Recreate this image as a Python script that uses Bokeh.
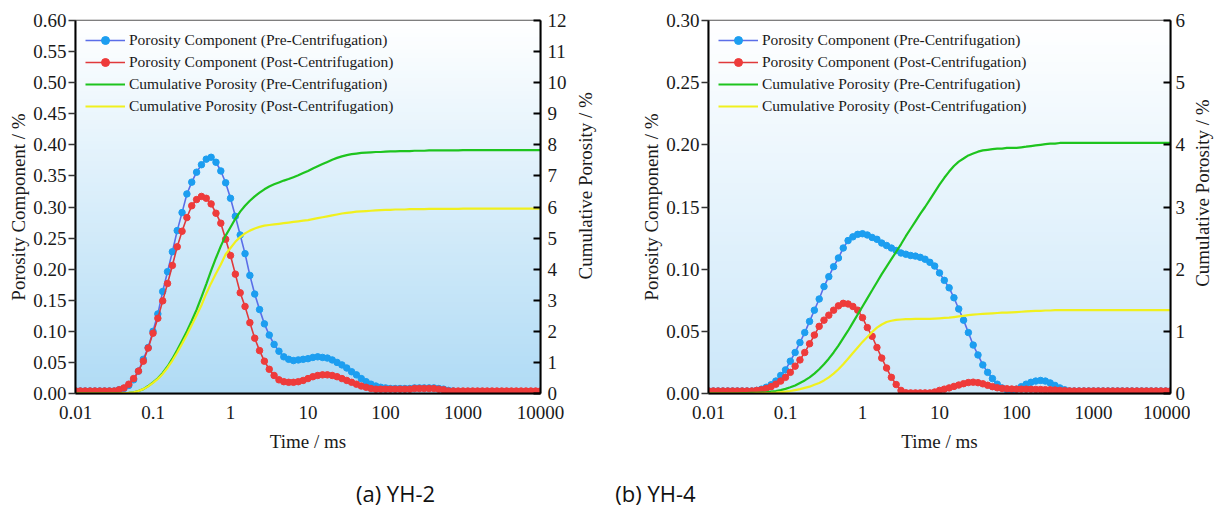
import math
from bokeh.plotting import figure
from bokeh.models import (Range1d, LinearAxis, FixedTicker, PrintfTickFormatter,
                          CustomJSTickFormatter, Legend, LegendItem)
from bokeh.layouts import row, column
from bokeh.core.properties import value
from bokeh.embed import file_html
from bokeh.resources import INLINE

# ---------------- data ----------------
time_ms = [
    0.01, 0.01155, 0.01334, 0.0154, 0.01778, 0.02054, 0.02371, 0.02738, 0.03162, 0.03652, 0.04217, 0.0487, 0.05623, 0.06494, 0.07499, 0.0866,
    0.1, 0.1155, 0.1334, 0.154, 0.1778, 0.2054, 0.2371, 0.2738, 0.3162, 0.3652, 0.4217, 0.487, 0.5623, 0.6494, 0.7499, 0.866,
    1, 1.155, 1.334, 1.54, 1.778, 2.054, 2.371, 2.738, 3.162, 3.652, 4.217, 4.87, 5.623, 6.494, 7.499, 8.66,
    10, 11.55, 13.34, 15.4, 17.78, 20.54, 23.71, 27.38, 31.62, 36.52, 42.17, 48.7, 56.23, 64.94, 74.99, 86.6,
    100, 115.5, 133.4, 154, 177.8, 205.4, 237.1, 273.8, 316.2, 365.2, 421.7, 487, 562.3, 649.4, 749.9, 866,
    1000, 1155, 1334, 1540, 1778, 2054, 2371, 2738, 3162, 3652, 4217, 4870, 5623, 6494, 7499, 8660,
    10000]

# (a) YH-2
yh2_comp_pre = [
    0.004, 0.004, 0.004, 0.004, 0.004, 0.004, 0.004, 0.004, 0.004, 0.006, 0.008, 0.013, 0.022, 0.036, 0.055, 0.074,
    0.100, 0.128, 0.164, 0.196, 0.228, 0.262, 0.291, 0.321, 0.340, 0.356, 0.368, 0.377, 0.380, 0.372, 0.358, 0.339,
    0.314, 0.285, 0.255, 0.225, 0.190, 0.160, 0.135, 0.112, 0.094, 0.079, 0.068, 0.059, 0.055, 0.053, 0.054, 0.055,
    0.056, 0.058, 0.059, 0.058, 0.057, 0.054, 0.050, 0.046, 0.041, 0.035, 0.030, 0.024, 0.019, 0.015, 0.012, 0.010,
    0.009, 0.008, 0.008, 0.008, 0.008, 0.008, 0.009, 0.009, 0.009, 0.009, 0.009, 0.008, 0.007, 0.005, 0.004, 0.003,
    0.003, 0.003, 0.003, 0.003, 0.003, 0.003, 0.003, 0.003, 0.003, 0.003, 0.003, 0.003, 0.003, 0.003, 0.003, 0.003,
    0.003]
yh2_comp_post = [
    0.004, 0.004, 0.004, 0.004, 0.004, 0.004, 0.004, 0.004, 0.004, 0.006, 0.009, 0.015, 0.024, 0.036, 0.052, 0.073,
    0.097, 0.121, 0.149, 0.177, 0.206, 0.236, 0.261, 0.283, 0.302, 0.312, 0.317, 0.314, 0.305, 0.290, 0.274, 0.248,
    0.222, 0.192, 0.162, 0.140, 0.114, 0.089, 0.069, 0.052, 0.039, 0.029, 0.022, 0.019, 0.018, 0.018, 0.019, 0.021,
    0.024, 0.027, 0.029, 0.030, 0.030, 0.029, 0.027, 0.024, 0.021, 0.018, 0.015, 0.012, 0.010, 0.008, 0.007, 0.007,
    0.007, 0.007, 0.007, 0.007, 0.007, 0.007, 0.008, 0.008, 0.008, 0.008, 0.008, 0.007, 0.006, 0.004, 0.004, 0.004,
    0.004, 0.004, 0.004, 0.004, 0.004, 0.004, 0.004, 0.004, 0.004, 0.004, 0.004, 0.004, 0.004, 0.004, 0.004, 0.004,
    0.004]
yh2_cum_pre = [
    0, 0, 0, 0, 0, 0, 0, 0, 0, 0, 0.01, 0.02, 0.04, 0.08, 0.14, 0.24,
    0.36, 0.49, 0.66, 0.87, 1.12, 1.40, 1.70, 2.00, 2.34, 2.70, 3.10, 3.52, 3.95, 4.36, 4.74, 5.08,
    5.35, 5.62, 5.85, 6.04, 6.20, 6.34, 6.46, 6.57, 6.66, 6.73, 6.79, 6.85, 6.90, 6.96, 7.02, 7.09,
    7.16, 7.24, 7.31, 7.38, 7.45, 7.52, 7.58, 7.63, 7.67, 7.70, 7.72, 7.74, 7.75, 7.76, 7.77, 7.77,
    7.78, 7.79, 7.79, 7.80, 7.80, 7.80, 7.81, 7.81, 7.81, 7.82, 7.82, 7.82, 7.82, 7.82, 7.82, 7.82,
    7.83, 7.83, 7.83, 7.83, 7.83, 7.83, 7.83, 7.83, 7.83, 7.83, 7.83, 7.83, 7.83, 7.83, 7.83, 7.83,
    7.83]
yh2_cum_post = [
    0, 0, 0, 0, 0, 0, 0, 0, 0, 0, 0.01, 0.02, 0.04, 0.08, 0.14, 0.23,
    0.34, 0.47, 0.63, 0.83, 1.06, 1.32, 1.60, 1.89, 2.20, 2.52, 2.84, 3.22, 3.55, 3.86, 4.15, 4.48,
    4.68, 4.88, 5.03, 5.15, 5.24, 5.31, 5.36, 5.40, 5.42, 5.44, 5.46, 5.48, 5.50, 5.52, 5.54, 5.56,
    5.58, 5.61, 5.64, 5.67, 5.70, 5.73, 5.76, 5.79, 5.81, 5.83, 5.85, 5.86, 5.87, 5.88, 5.89, 5.90,
    5.91, 5.91, 5.92, 5.92, 5.92, 5.93, 5.93, 5.93, 5.93, 5.94, 5.94, 5.94, 5.94, 5.94, 5.94, 5.94,
    5.95, 5.95, 5.95, 5.95, 5.95, 5.95, 5.95, 5.95, 5.95, 5.95, 5.95, 5.95, 5.95, 5.95, 5.95, 5.95,
    5.95]

# (b) YH-4
yh4_comp_pre = [
    0.002, 0.002, 0.002, 0.002, 0.002, 0.002, 0.002, 0.002, 0.002, 0.002, 0.0025, 0.0035, 0.005, 0.007, 0.010, 0.0145,
    0.019, 0.026, 0.033, 0.041, 0.049, 0.058, 0.067, 0.076, 0.086, 0.094, 0.102, 0.109, 0.117, 0.123, 0.126, 0.128,
    0.1285, 0.1275, 0.1255, 0.124, 0.121, 0.119, 0.117, 0.115, 0.113, 0.112, 0.111, 0.1105, 0.1095, 0.108, 0.1055, 0.1025,
    0.097, 0.091, 0.085, 0.077, 0.068, 0.059, 0.049, 0.039, 0.031, 0.023, 0.017, 0.012, 0.0075, 0.0045, 0.003, 0.0025,
    0.0035, 0.0055, 0.0075, 0.009, 0.010, 0.0105, 0.010, 0.0085, 0.0065, 0.0045, 0.003, 0.002, 0.002, 0.002, 0.002, 0.002,
    0.002, 0.002, 0.002, 0.002, 0.002, 0.002, 0.002, 0.002, 0.002, 0.002, 0.002, 0.002, 0.002, 0.002, 0.002, 0.002,
    0.002]
yh4_comp_post = [
    0.002, 0.002, 0.002, 0.002, 0.002, 0.002, 0.002, 0.002, 0.002, 0.002, 0.0025, 0.003, 0.004, 0.0055, 0.0075, 0.010,
    0.013, 0.017, 0.022, 0.027, 0.033, 0.040, 0.047, 0.054, 0.059, 0.063, 0.067, 0.0705, 0.0725, 0.072, 0.070, 0.067,
    0.061, 0.053, 0.046, 0.037, 0.0285, 0.0205, 0.013, 0.0072, 0.0025, 0.0006, 0.0005, 0.0005, 0.0005, 0.0005, 0.0005, 0.0012,
    0.0025, 0.0035, 0.0045, 0.0057, 0.0068, 0.0079, 0.0088, 0.0091, 0.0087, 0.0078, 0.0066, 0.0055, 0.0046, 0.0041, 0.0038, 0.0036,
    0.0035, 0.0035, 0.0035, 0.0034, 0.0033, 0.0032, 0.0031, 0.003, 0.0028, 0.0025, 0.0023, 0.0021, 0.002, 0.002, 0.002, 0.002,
    0.002, 0.002, 0.002, 0.002, 0.002, 0.002, 0.002, 0.002, 0.002, 0.002, 0.002, 0.002, 0.002, 0.002, 0.002, 0.002,
    0.002]
yh4_cum_pre = [
    0, 0, 0, 0, 0, 0, 0, 0.005, 0.005, 0.01, 0.01, 0.015, 0.02, 0.03, 0.04, 0.055,
    0.075, 0.10, 0.13, 0.17, 0.21, 0.26, 0.32, 0.39, 0.47, 0.56, 0.66, 0.77, 0.89, 1.01, 1.14, 1.27,
    1.40, 1.53, 1.66, 1.79, 1.92, 2.04, 2.16, 2.28, 2.40, 2.53, 2.65, 2.77, 2.89, 3.00, 3.12, 3.24,
    3.36, 3.47, 3.57, 3.66, 3.73, 3.78, 3.83, 3.86, 3.89, 3.91, 3.92, 3.93, 3.94, 3.94, 3.95, 3.95,
    3.95, 3.96, 3.97, 3.98, 3.99, 4.00, 4.01, 4.02, 4.02, 4.03, 4.03, 4.03, 4.03, 4.03, 4.03, 4.03,
    4.03, 4.03, 4.03, 4.03, 4.03, 4.03, 4.03, 4.03, 4.03, 4.03, 4.03, 4.03, 4.03, 4.03, 4.03, 4.03,
    4.03]
yh4_cum_post = [
    0, 0, 0, 0, 0, 0, 0, 0, 0, 0, 0.002, 0.004, 0.007, 0.01, 0.015, 0.022,
    0.03, 0.04, 0.055, 0.07, 0.09, 0.11, 0.14, 0.17, 0.21, 0.26, 0.32, 0.39, 0.47, 0.56, 0.65, 0.74,
    0.83, 0.91, 0.99, 1.06, 1.11, 1.15, 1.17, 1.185, 1.19, 1.195, 1.195, 1.20, 1.20, 1.20, 1.20, 1.205,
    1.21, 1.215, 1.22, 1.23, 1.24, 1.25, 1.26, 1.27, 1.275, 1.28, 1.285, 1.29, 1.295, 1.30, 1.30, 1.305,
    1.31, 1.315, 1.32, 1.325, 1.33, 1.33, 1.335, 1.335, 1.34, 1.34, 1.34, 1.34, 1.34, 1.34, 1.34, 1.34,
    1.34, 1.34, 1.34, 1.34, 1.34, 1.34, 1.34, 1.34, 1.34, 1.34, 1.34, 1.34, 1.34, 1.34, 1.34, 1.34,
    1.34]

x_ticks = [0.01, 0.1, 1, 10, 100, 1000, 10000]
yh2_left_ticks = [0, 0.05, 0.10, 0.15, 0.20, 0.25, 0.30, 0.35, 0.40, 0.45, 0.50, 0.55, 0.60]
yh2_right_ticks = [0, 1, 2, 3, 4, 5, 6, 7, 8, 9, 10, 11, 12]
yh4_left_ticks = [0, 0.05, 0.10, 0.15, 0.20, 0.25, 0.30]
yh4_right_ticks = [0, 1, 2, 3, 4, 5, 6]

labels = ["Porosity Component (Pre-Centrifugation)",
          "Porosity Component (Post-Centrifugation)",
          "Cumulative Porosity (Pre-Centrifugation)",
          "Cumulative Porosity (Post-Centrifugation)"]
left_title = "Porosity Component / %"
right_title = "Cumulative Porosity / %"
x_title = "Time / ms"
captions = ["(a) YH-2", "(b) YH-4"]

SERIF = "Liberation Serif"
TXT = "#1a1a1a"
TICK_FS = "19px"
TITLE_FS = "19px"
ROW_H = 458


def blend(c1, c2, f):
    r = [round(c1[i] + (c2[i] - c1[i]) * f) for i in range(3)]
    return "#%02x%02x%02x" % tuple(r)


def make_panel(comp_pre, comp_post, cum_pre, cum_post, left_ticks, right_ticks,
               width, b_left, b_right, b_top, bottom_rgb, r_label_standoff):
    ymax = left_ticks[-1]
    cmax = right_ticks[-1]
    p = figure(width=width, height=ROW_H, x_axis_type="log",
               x_range=Range1d(0.01, 10000), y_range=Range1d(0, ymax),
               output_backend="svg", toolbar_location=None,
               min_border_left=b_left, min_border_right=b_right,
               min_border_top=b_top, min_border_bottom=65)
    p.extra_y_ranges = {"cum": Range1d(0, cmax)}
    p.xgrid.visible = False
    p.ygrid.visible = False
    p.background_fill_color = "white"
    p.border_fill_color = "white"
    p.outline_line_color = "#555555"
    p.outline_line_width = 1.5

    # vertical gradient background (white top -> light blue bottom)
    n = 90
    bots, tops, cols = [], [], []
    for k in range(n):
        bots.append(ymax * k / n)
        tops.append(min(ymax, ymax * (k + 1.4) / n))
        cols.append(blend(bottom_rgb, (255, 255, 255), k / (n - 1)))
    p.quad(left=0.01, right=10000, bottom=bots, top=tops, fill_color=cols,
           line_color=None)

    r1l = p.line(time_ms, comp_pre, line_color="#5a6ee8", line_width=1.6)
    r1s = p.scatter(time_ms, comp_pre, marker="circle", size=6.5,
                    fill_color="#1c9ef0", line_color="#1c9ef0")
    r2l = p.line(time_ms, comp_post, line_color="#e0393b", line_width=1.6)
    r2s = p.scatter(time_ms, comp_post, marker="circle", size=6.5,
                    fill_color="#ee3b3b", line_color="#ee3b3b")
    r3 = p.line(time_ms, cum_pre, y_range_name="cum", line_color="#1ec41e", line_width=2.2)
    r4 = p.line(time_ms, cum_post, y_range_name="cum", line_color="#f0f01e", line_width=2.2)

    legend = Legend(items=[LegendItem(label=labels[0], renderers=[r1l, r1s]),
                           LegendItem(label=labels[1], renderers=[r2l, r2s]),
                           LegendItem(label=labels[2], renderers=[r3]),
                           LegendItem(label=labels[3], renderers=[r4])],
                    location="top_left")
    legend.border_line_color = None
    legend.background_fill_alpha = 0
    legend.label_text_font = SERIF
    legend.label_text_font_size = "15.5px"
    legend.label_text_color = TXT
    legend.glyph_width = 40
    legend.glyph_height = 20
    legend.label_height = 20
    legend.spacing = 2
    legend.padding = 10
    legend.margin = 10
    legend.label_standoff = 4
    p.add_layout(legend)

    # bottom axis
    xa = p.xaxis[0]
    xa.ticker = FixedTicker(ticks=x_ticks)
    xa.formatter = CustomJSTickFormatter(code="return tick.toString()")
    xa.major_tick_line_color = None
    xa.minor_tick_line_color = None
    xa.axis_line_color = "black"
    xa.axis_line_width = 2
    xa.major_label_standoff = 6
    xa.major_label_text_font = SERIF
    xa.major_label_text_font_size = TICK_FS
    xa.major_label_text_color = TXT
    xa.axis_label = x_title
    xa.axis_label_standoff = 9
    xa.axis_label_text_font = SERIF
    xa.axis_label_text_font_size = TITLE_FS
    xa.axis_label_text_font_style = "normal"
    xa.axis_label_text_color = TXT

    # left axis
    ya = p.yaxis[0]
    ya.ticker = FixedTicker(ticks=left_ticks)
    ya.formatter = PrintfTickFormatter(format="%.2f")
    ya.major_tick_out = 7
    ya.major_tick_in = 0
    ya.major_tick_line_width = 1.3
    ya.major_tick_line_color = "#333333"
    ya.minor_tick_line_color = None
    ya.axis_line_color = "black"
    ya.axis_line_width = 2
    ya.major_label_standoff = 2
    ya.major_label_text_font = SERIF
    ya.major_label_text_font_size = TICK_FS
    ya.major_label_text_color = TXT
    ya.axis_label = left_title
    ya.axis_label_standoff = 1
    ya.axis_label_text_font = SERIF
    ya.axis_label_text_font_size = TITLE_FS
    ya.axis_label_text_font_style = "normal"
    ya.axis_label_text_color = TXT

    # right axis (ticks pointing inward)
    ra = LinearAxis(y_range_name="cum", ticker=FixedTicker(ticks=right_ticks),
                    formatter=PrintfTickFormatter(format="%d"))
    ra.major_tick_out = 0
    ra.major_tick_in = 7
    ra.major_tick_line_width = 2
    ra.major_tick_line_color = "black"
    ra.minor_tick_line_color = None
    ra.axis_line_color = "black"
    ra.axis_line_width = 2
    ra.major_label_standoff = r_label_standoff
    ra.major_label_text_font = SERIF
    ra.major_label_text_font_size = TICK_FS
    ra.major_label_text_color = TXT
    p.add_layout(ra, "right")
    return p


def title_strip(text, width, y_center):
    # narrow strip holding the right-hand axis title, reading bottom-to-top
    t = figure(width=width, height=ROW_H, x_range=Range1d(0, width), y_range=Range1d(0, ROW_H),
               output_backend="svg", toolbar_location=None,
               x_axis_location=None, y_axis_location=None,
               min_border_left=0, min_border_right=0, min_border_top=0, min_border_bottom=0)
    t.grid.visible = False
    t.outline_line_color = None
    t.background_fill_color = "white"
    t.border_fill_color = "white"
    t.text(x=[width / 2], y=[y_center], text=[text], angle=math.pi / 2,
           text_align="center", text_baseline="middle",
           text_font=value(SERIF), text_font_size=TITLE_FS, text_color=TXT)
    return t


p1 = make_panel(yh2_comp_pre, yh2_comp_post, yh2_cum_pre, yh2_cum_post,
                yh2_left_ticks, yh2_right_ticks,
                573, 75, 33, 18, (176, 219, 245), 7)
t1 = title_strip(right_title, 24, ROW_H - 203)
p2 = make_panel(yh4_comp_pre, yh4_comp_post, yh4_cum_pre, yh4_cum_post,
                yh4_left_ticks, yh4_right_ticks,
                593, 111, 20, 20, (203, 231, 249), 5)
t2 = title_strip(right_title, 24, ROW_H - 212)

# caption strip
pc = figure(width=1214, height=48, x_range=Range1d(0, 1214), y_range=Range1d(0, 48),
            output_backend="svg", toolbar_location=None,
            x_axis_location=None, y_axis_location=None,
            min_border_left=0, min_border_right=0, min_border_top=0, min_border_bottom=0)
pc.grid.visible = False
pc.outline_line_color = None
pc.background_fill_color = "white"
pc.border_fill_color = "white"
pc.text(x=[395, 655], y=[14, 14], text=captions, text_align="center",
        text_baseline="middle", text_font=value("Open Sans"),
        text_font_size="22px", text_color="#111111")

layout = column(row(p1, t1, p2, t2), pc)
open("out.html", "w").write(file_html(layout, INLINE))
